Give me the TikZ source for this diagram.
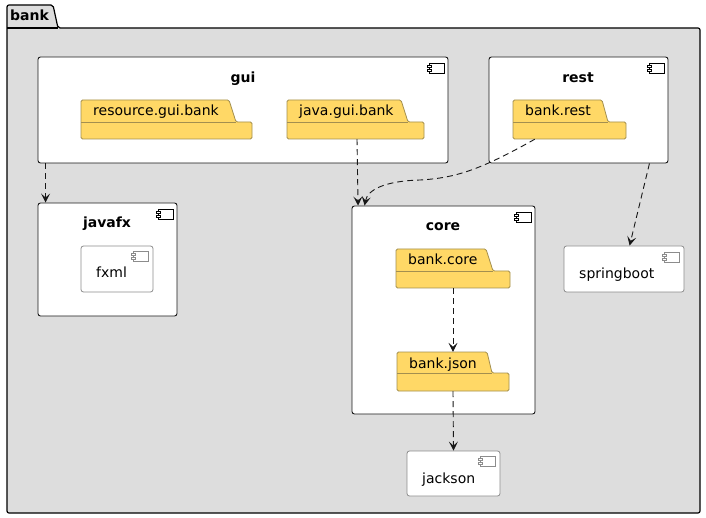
\documentclass[tikz,border=0pt]{standalone}
\usepackage{fontspec}
\setmainfont{DejaVu Sans}
\usetikzlibrary{arrows.meta,fit,calc}
\definecolor{pkgfill}{HTML}{FFD866}
\definecolor{pkgline}{HTML}{A38F4F}
\definecolor{bankfill}{HTML}{DDDDDD}
\definecolor{edgecol}{HTML}{181818}
\definecolor{leafline}{HTML}{8C8C8C}

\newcommand\compicon[3]{%
  \draw[#3, fill=white, line width=0.6pt] (#1-15,#2) rectangle (#1,#2+10);
  \draw[#3, fill=white, line width=0.6pt] (#1-17,#2+2) rectangle (#1-13,#2+4);
  \draw[#3, fill=white, line width=0.6pt] (#1-17,#2+6) rectangle (#1-13,#2+8);
}
\newcommand\pkgshape[9]{%
  \draw[pkgline, fill=pkgfill, line width=0.8pt, rounded corners=1.5pt]
    (#2,#6) -- (#2,#3) -- (#4,#3) -- (#5,#6) -- (#7,#6) -- (#7,#8) -- (#2,#8) -- cycle;
  \draw[pkgline, line width=0.8pt] (#2,#6) -- (#5,#6);
  \node[fit={(#2,#3) (#7,#8)}, inner sep=0pt] (#1) {};
  \node[anchor=base west, inner sep=0pt] (#1-label) at (#2+12,#3+16) {#9};
}

\begin{document}
\begin{tikzpicture}[x=1pt,y=-1pt,
  font=\fontsize{14}{16}\selectfont,
  comp/.style={draw=edgecol, fill=white, rounded corners=2.5pt, line width=0.9pt, inner sep=0pt},
  leaf/.style={draw=leafline, fill=white, rounded corners=2.5pt, line width=0.8pt, inner sep=0pt},
  ctitle/.style={anchor=base, inner sep=0pt, font=\fontsize{14}{16}\selectfont\bfseries},
  ltext/.style={anchor=base west, inner sep=0pt},
  dep/.style={draw=edgecol, line width=0.9pt, dash pattern=on 6pt off 4pt,
    -{Stealth[length=9pt,width=9pt,inset=4pt]}}]
\useasboundingbox (0,0) rectangle (706,518);

% outer package bank
\draw[black, fill=bankfill, line width=1.2pt, rounded corners=2pt]
  (7,28) -- (7,5) -- (53,5) -- (58,28) -- (700,28) -- (700,513) -- (7,513) -- cycle;
\draw[black, line width=1.2pt] (7,28) -- (58,28);
\node[fit={(7,5) (700,513)}, inner sep=0pt] (bank) {};
\node[anchor=base west, inner sep=0pt, font=\fontsize{14}{16}\selectfont\bfseries] (bank-title) at (10,21) {bank};

% components
\node[comp, fit={(38,57) (448,163)}] (gui) {};
\node[ctitle] (gui-title) at (243,82.5) {gui};
\compicon{444}{63}{black}

\node[comp, fit={(489,57) (668,163)}] (rest) {};
\node[ctitle] (rest-title) at (578,82.5) {rest};
\compicon{664}{63}{black}

\node[comp, fit={(38,203) (177,316)}] (javafx) {};
\node[ctitle] (javafx-title) at (107,228) {javafx};
\compicon{173}{209}{black}

\node[comp, fit={(352,206) (535,414)}] (core) {};
\node[ctitle] (core-title) at (443,231) {core};
\compicon{531}{212}{black}

\node[leaf, fit={(81,246) (153,292)}] (fxml) {};
\node[ltext] (fxml-label) at (96,277.5) {fxml};
\compicon{148}{251}{leafline}

\node[leaf, fit={(564,246) (684,292)}] (springboot) {};
\node[ltext] (springboot-label) at (579,279) {springboot};
\compicon{679}{252}{leafline}

\node[leaf, fit={(407,451) (500,496)}] (jackson) {};
\node[ltext] (jackson-label) at (422,483) {jackson};
\compicon{495}{456}{leafline}

% packages
\pkgshape{rgb}{81}{100}{229}{236}{122}{252}{139}{resource.gui.bank}
\pkgshape{jgb}{287}{100}{401}{408}{122}{424}{139}{java.gui.bank}
\pkgshape{brest}{513}{100}{602}{608}{122}{626}{139}{bank.rest}
\pkgshape{bcore}{396}{249}{486}{493}{271}{510}{288}{bank.core}
\pkgshape{bjson}{397}{352}{487}{492}{373}{509}{391}{bank.json}

% dependencies
\draw[dep] ([xshift=8]gui.south west) -- ([xshift=8]javafx.north west);
\draw[dep] ([xshift=1.5]jgb.south) -- ([xshift=6.5]core.north west);
\coordinate (bend) at (420,180);
\draw[dep] ([xshift=22]brest.south west) .. controls +(-55,31) and +(35,-2) .. (bend)
  .. controls +(-35,1) and +(3,-16) .. ([xshift=13]core.north west);
\draw[dep] ([xshift=-19]rest.south east) -- ([xshift=66]springboot.north west);
\draw[dep] (bcore.south) -- (bjson.north);
\draw[dep] (bjson.south) -- (jackson.north);
\end{tikzpicture}
\end{document}
